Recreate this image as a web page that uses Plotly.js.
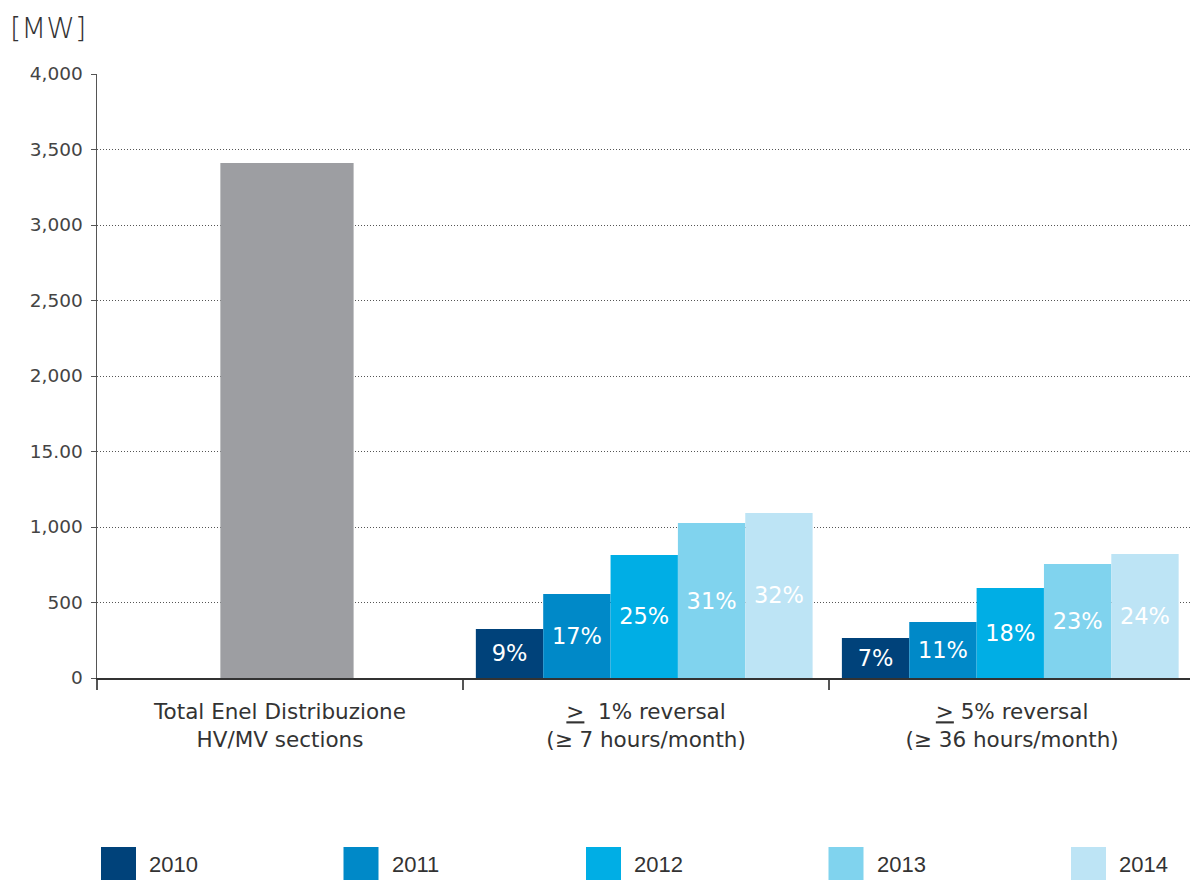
<!DOCTYPE html>
<html>
<head>
<meta charset="utf-8">
<script src="https://cdn.plot.ly/plotly-3.0.1.min.js"></script>
<style>html,body{margin:0;padding:0;background:#fff;}#chart{width:1190px;height:880px;}</style>
</head>
<body>
<div id="chart"></div>
<script>
// ---- data ----
const categories = ["Total Enel Distribuzione<br>HV/MV sections", "<u>></u>  1% reversal<br>(≥ 7 hours/month)", "<u>></u> 5% reversal<br>(≥ 36 hours/month)"];
const totalCategory = ["Total Enel Distribuzione<br>HV/MV sections"];
const totalValue = [3410];
const reversalCategories = ["<u>></u>  1% reversal<br>(≥ 7 hours/month)", "<u>></u> 5% reversal<br>(≥ 36 hours/month)"];
const years = ["2010", "2011", "2012", "2013", "2014"];
const values2010 = [325, 265];
const values2011 = [556, 371];
const values2012 = [815, 596];
const values2013 = [1026, 755];
const values2014 = [1093, 821];
const labels2010 = ["9%", "7%"];
const labels2011 = ["17%", "11%"];
const labels2012 = ["25%", "18%"];
const labels2013 = ["31%", "23%"];
const labels2014 = ["32%", "24%"];
const yTickVals = [0, 500, 1000, 1500, 2000, 2500, 3000, 3500, 4000];
const yTickText = ["0", "500", "1,000", "15.00", "2,000", "2,500", "3,000", "3,500", "4,000"];

// ---- style ----
const yearColors = ["#00427a", "#0089c8", "#00aee5", "#80d3ee", "#bde4f5"];
const grayColor = "#9d9ea2";
const seriesValues = [values2010, values2011, values2012, values2013, values2014];
const seriesLabels = [labels2010, labels2011, labels2012, labels2013, labels2014];
const barW = 0.184;
const groupStart = -0.465;
const fontFam = "DejaVu Sans, Liberation Sans, Arial, sans-serif";
const legFam = "Liberation Sans, Arial, sans-serif";

const traces = [{
  type: "bar", x: totalCategory, y: totalValue, marker: {color: grayColor},
  width: 0.364, offset: -0.163, showlegend: false, hoverinfo: "skip"
}];
years.forEach((yr, i) => {
  traces.push({
    type: "bar", name: yr, x: reversalCategories, y: seriesValues[i],
    marker: {color: yearColors[i]}, width: barW, offset: groupStart + i * barW,
    text: seriesLabels[i], textposition: "inside", insidetextanchor: "middle",
    textangle: 0, constraintext: "none",
    textfont: {family: fontFam, size: 22.5, color: "#ffffff"},
    showlegend: false, hoverinfo: "skip"
  });
});

const shapes = [], annotations = [];
const legX0 = 101, legStep = 242.5;
years.forEach((yr, i) => {
  const x0 = legX0 + i * legStep;
  shapes.push({type: "rect", xref: "paper", yref: "paper",
    x0: (x0 - 97) / 1093, x1: (x0 + 35 - 97) / 1093,
    y0: (678 - 881) / 604, y1: (678 - 847) / 604,
    fillcolor: yearColors[i], line: {width: 0}});
  annotations.push({xref: "paper", yref: "paper", x: (x0 + 46 - 97) / 1093, y: (678 - 864) / 604,
    xanchor: "left", yanchor: "middle", showarrow: false, text: yr,
    font: {family: legFam, size: 22, color: "#333"}});
});
annotations.push({xref: "paper", yref: "paper", x: (8 - 97) / 1093, y: (678 - 28) / 604,
  xanchor: "left", yanchor: "middle", showarrow: false, text: "[MW]",
  font: {family: fontFam, size: 29, color: "#333", weight: 300}});

const layout = {
  width: 1190, height: 880,
  margin: {l: 97, r: 0, t: 74, b: 202},
  paper_bgcolor: "#fff", plot_bgcolor: "#fff",
  barmode: "overlay",
  showlegend: false,
  font: {family: fontFam, color: "#444"},
  xaxis: {
    type: "category", categoryorder: "array", categoryarray: categories,
    range: [-0.5, 2.486], tickson: "boundaries", ticks: "outside", ticklen: 10,
    tickcolor: "#555", tickwidth: 1.5, showline: true, linecolor: "#333", linewidth: 1.5,
    showgrid: false, zeroline: false, fixedrange: true,
    tickfont: {family: fontFam, size: 21.5, color: "#333"}, ticklabelstandoff: 14
  },
  yaxis: {
    range: [0, 4000], tickvals: yTickVals, ticktext: yTickText,
    ticks: "outside", ticklen: 5, tickcolor: "#555", tickwidth: 1,
    showline: true, linecolor: "#555", linewidth: 1.5,
    showgrid: true, gridcolor: "#555", griddash: "1px,2px", gridwidth: 1,
    zeroline: false, fixedrange: true,
    tickfont: {family: fontFam, size: 18.5, color: "#444"}, ticklabelstandoff: 4
  },
  shapes: shapes, annotations: annotations
};

Plotly.newPlot("chart", traces, layout, {staticPlot: true, displayModeBar: false});
</script>
</body>
</html>
